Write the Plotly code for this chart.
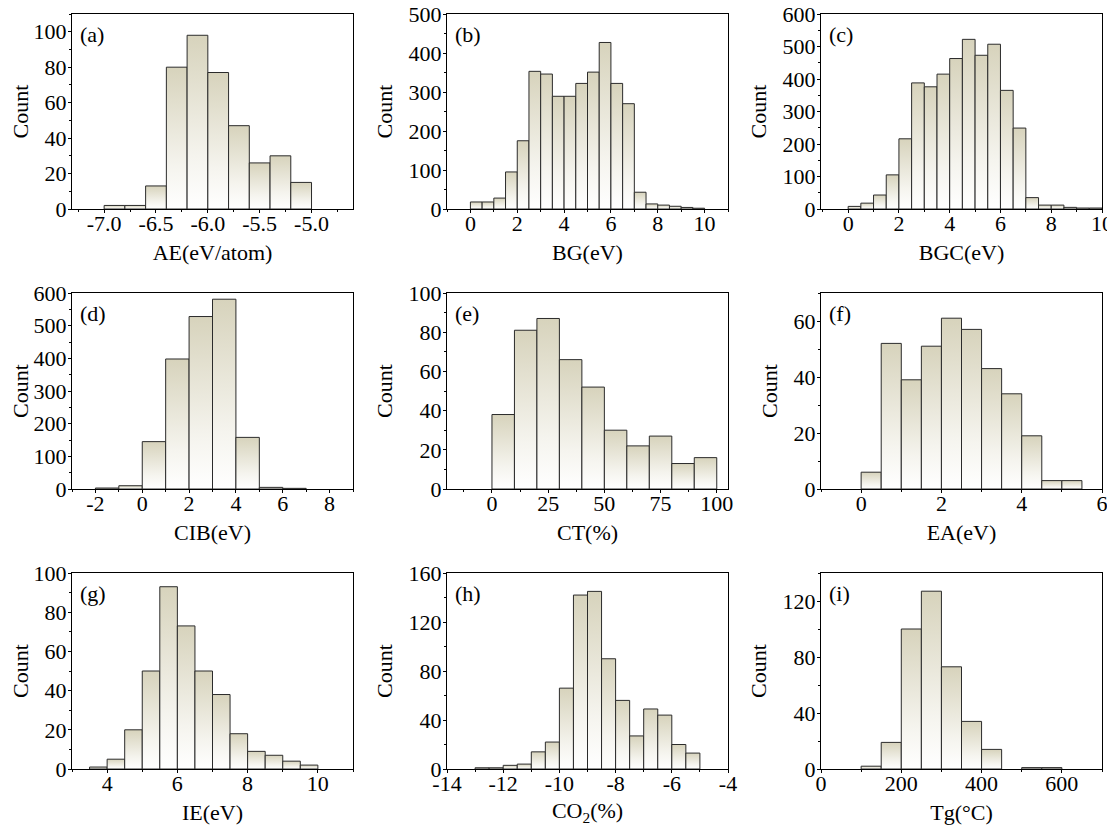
import plotly.graph_objects as go

# ---------------- data ----------------
AE_edges = [-7.0, -6.8, -6.6, -6.4, -6.2, -6.0, -5.8, -5.6, -5.4, -5.2, -5.0]
AE_counts = [2, 2, 13, 80, 98, 77, 47, 26, 30, 15]

BG_edges = [0, 0.5, 1, 1.5, 2, 2.5, 3, 3.5, 4, 4.5, 5, 5.5, 6, 6.5, 7, 7.5, 8, 8.5, 9, 9.5, 10]
BG_counts = [18, 18, 28, 95, 175, 353, 346, 289, 289, 322, 351, 427, 322, 270, 43, 13, 10, 7, 4, 2]

BGC_edges = [0, 0.5, 1, 1.5, 2, 2.5, 3, 3.5, 4, 4.5, 5, 5.5, 6, 6.5, 7, 7.5, 8, 8.5, 9, 9.5, 10]
BGC_counts = [8, 18, 43, 105, 216, 388, 376, 415, 463, 522, 473, 507, 365, 249, 35, 12, 12, 5, 3, 3]

CIB_edges = [-2, -1, 0, 1, 2, 3, 4, 5, 6, 7]
CIB_counts = [3, 10, 145, 398, 528, 581, 158, 5, 2]

CT_edges = [0, 10, 20, 30, 40, 50, 60, 70, 80, 90, 100]
CT_counts = [38, 81, 87, 66, 52, 30, 22, 27, 13, 16]

EA_edges = [0, 0.5, 1, 1.5, 2, 2.5, 3, 3.5, 4, 4.5, 5, 5.5]
EA_counts = [6, 52, 39, 51, 61, 57, 43, 34, 19, 3, 3]

IE_edges = [3.5, 4, 4.5, 5, 5.5, 6, 6.5, 7, 7.5, 8, 8.5, 9, 9.5, 10]
IE_counts = [1, 5, 20, 50, 93, 73, 50, 38, 18, 9, 7, 4, 2]

CO2_edges = [-13, -12.5, -12, -11.5, -11, -10.5, -10, -9.5, -9, -8.5, -8, -7.5, -7, -6.5, -6, -5.5, -5]
CO2_counts = [1, 1, 3, 4, 14, 22, 66, 142, 145, 90, 56, 27, 49, 44, 20, 13]

Tg_edges = [100, 150, 200, 250, 300, 350, 400, 450, 500, 550, 600]
Tg_counts = [2, 19, 100, 127, 73, 34, 14, 0, 1, 1]

# tick labels
AE_xticks = [-7.0, -6.5, -6.0, -5.5, -5.0]
AE_xlabels = ["-7.0", "-6.5", "-6.0", "-5.5", "-5.0"]
BG_xticks = [0, 2, 4, 6, 8, 10]
BG_xlabels = ["0", "2", "4", "6", "8", "10"]
CIB_xticks = [-2, 0, 2, 4, 6, 8]
CIB_xlabels = ["-2", "0", "2", "4", "6", "8"]
CT_xticks = [0, 25, 50, 75, 100]
CT_xlabels = ["0", "25", "50", "75", "100"]
EA_xticks = [0, 2, 4, 6]
EA_xlabels = ["0", "2", "4", "6"]
IE_xticks = [4, 6, 8, 10]
IE_xlabels = ["4", "6", "8", "10"]
CO2_xticks = [-14, -12, -10, -8, -6, -4]
CO2_xlabels = ["-14", "-12", "-10", "-8", "-6", "-4"]
Tg_xticks = [0, 200, 400, 600]
Tg_xlabels = ["0", "200", "400", "600"]

panels = [
    dict(tag="(a)", xtitle="AE(eV/atom)", edges=AE_edges, counts=AE_counts,
         xr=[-7.31, -4.6], xt=AE_xticks, xl=AE_xlabels, xm0=-7.0, xmd=0.25,
         yr=[0, 110], yd=20, ymd=10),
    dict(tag="(b)", xtitle="BG(eV)", edges=BG_edges, counts=BG_counts,
         xr=[-1, 11], xt=BG_xticks, xl=BG_xlabels, xm0=0, xmd=1,
         yr=[0, 500], yd=100, ymd=50),
    dict(tag="(c)", xtitle="BGC(eV)", edges=BGC_edges, counts=BGC_counts,
         xr=[-1.07, 10], xt=BG_xticks, xl=BG_xlabels, xm0=0, xmd=1,
         yr=[0, 600], yd=100, ymd=50),
    dict(tag="(d)", xtitle="CIB(eV)", edges=CIB_edges, counts=CIB_counts,
         xr=[-3, 9], xt=CIB_xticks, xl=CIB_xlabels, xm0=0, xmd=1,
         yr=[0, 600], yd=100, ymd=50),
    dict(tag="(e)", xtitle="CT(%)", edges=CT_edges, counts=CT_counts,
         xr=[-20, 105], xt=CT_xticks, xl=CT_xlabels, xm0=0, xmd=12.5,
         yr=[0, 100], yd=20, ymd=10),
    dict(tag="(f)", xtitle="EA(eV)", edges=EA_edges, counts=EA_counts,
         xr=[-1, 6], xt=EA_xticks, xl=EA_xlabels, xm0=0, xmd=1,
         yr=[0, 70], yd=20, ymd=10),
    dict(tag="(g)", xtitle="IE(eV)", edges=IE_edges, counts=IE_counts,
         xr=[3, 11], xt=IE_xticks, xl=IE_xlabels, xm0=0, xmd=1,
         yr=[0, 100], yd=20, ymd=10),
    dict(tag="(h)", xtitle="CO<sub>2</sub>(%)", edges=CO2_edges, counts=CO2_counts,
         xr=[-14, -4], xt=CO2_xticks, xl=CO2_xlabels, xm0=0, xmd=1,
         yr=[0, 160], yd=40, ymd=20),
    dict(tag="(i)", xtitle="Tg(°C)", edges=Tg_edges, counts=Tg_counts,
         xr=[0, 700], xt=Tg_xticks, xl=Tg_xlabels, xm0=0, xmd=100,
         yr=[0, 140], yd=40, ymd=20),
]

# ---------------- layout geometry ----------------
# the page body adds an 8px margin, so the figure is drawn 8px in from the window
OFF = 8
W, H = 1115 - OFF, 826 - OFF
col_px = [(72 - OFF, 353 - OFF), (447 - OFF, 728 - OFF), (821 - OFF, 1102 - OFF)]
row_px = [(14 - OFF, 209 - OFF), (293 - OFF, 489 - OFF), (573 - OFF, 769 - OFF)]

FONT = "Liberation Serif"
FS = 22
TOP = "#d7d3bc"
grad = [[0, "#ffffff"], [0.3, "#f5f4ee"], [1, TOP]]


def axname(letter, k):
    return letter if k == 1 else f"{letter}{k}"


fig = go.Figure()
layout = dict(
    width=W, height=H, autosize=False,
    margin=dict(l=0, r=0, t=0, b=0, pad=0, autoexpand=False),
    paper_bgcolor="white", plot_bgcolor="white",
    font=dict(family=FONT, size=FS, color="black"),
    showlegend=False,
    annotations=[],
)

N = len(panels)
for i, p in enumerate(panels):
    k = i + 1
    r, c = divmod(i, 3)
    xd = [col_px[c][0] / W, col_px[c][1] / W]
    yd = [1 - row_px[r][1] / H, 1 - row_px[r][0] / H]
    xa, ya = axname("x", k), axname("y", k)

    edges, counts = p["edges"], p["counts"]
    for j, cnt in enumerate(counts):
        if cnt <= 0:
            continue
        x0, x1 = edges[j], edges[j + 1]
        fig.add_trace(go.Scatter(
            x=[x0, x0, x1, x1, x0], y=[0, cnt, cnt, 0, 0],
            mode="lines", fill="toself",
            fillgradient=dict(type="vertical", colorscale=grad),
            line=dict(color="#2b2b2b", width=1),
            xaxis=xa, yaxis=ya, hoverinfo="skip", showlegend=False,
        ))

    common_x = dict(range=p["xr"], tickmode="array", tickvals=p["xt"],
                    showgrid=False, zeroline=False, linecolor="black", linewidth=1,
                    tickcolor="black", tickwidth=1, automargin=False)
    common_y = dict(range=p["yr"], tick0=0, dtick=p["yd"],
                    showgrid=False, zeroline=False, linecolor="black", linewidth=1,
                    tickcolor="black", tickwidth=1, automargin=False)

    layout[f"xaxis{k}"] = dict(
        **common_x, domain=xd, anchor=ya, ticktext=p["xl"],
        showline=True, mirror=True, ticks="outside", ticklen=3,
        ticklabelstandoff=-8, ticklabeloverflow="allow",
        minor=dict(tick0=p["xm0"], dtick=p["xmd"], ticks="outside", ticklen=2,
                   tickcolor="black"),
        title=dict(text=p["xtitle"], standoff=9, font=dict(size=FS)),
        tickfont=dict(size=FS),
    )
    layout[f"yaxis{k}"] = dict(
        **common_y, domain=yd, anchor=xa,
        showline=True, mirror=True, ticks="outside", ticklen=3,
        ticklabelstandoff=-3, ticklabeloverflow="allow",
        minor=dict(tick0=0, dtick=p["ymd"], ticks="outside", ticklen=2,
                   tickcolor="black"),
        title=dict(text="Count", standoff=9, font=dict(size=FS)),
        tickfont=dict(size=FS),
    )
    # mirrored axes carrying inward ticks on top and right
    layout[f"xaxis{k + N}"] = dict(
        **common_x, overlaying=xa, side="top", anchor=ya,
        showline=False, ticks="inside", ticklen=3, showticklabels=False,
        minor=dict(tick0=p["xm0"], dtick=p["xmd"], ticks="inside", ticklen=2,
                   tickcolor="black"),
    )
    layout[f"yaxis{k + N}"] = dict(
        **common_y, overlaying=ya, side="right", anchor=xa,
        showline=False, ticks="inside", ticklen=3, showticklabels=False,
        minor=dict(tick0=0, dtick=p["ymd"], ticks="inside", ticklen=2,
                   tickcolor="black"),
    )
    layout["annotations"].append(dict(
        text=p["tag"], xref=f"{xa} domain", yref=f"{ya} domain",
        x=0.02, y=0.97, xanchor="left", yanchor="top", showarrow=False,
        font=dict(size=FS),
    ))

fig.update_layout(**layout)
fig.write_html("out.html")
